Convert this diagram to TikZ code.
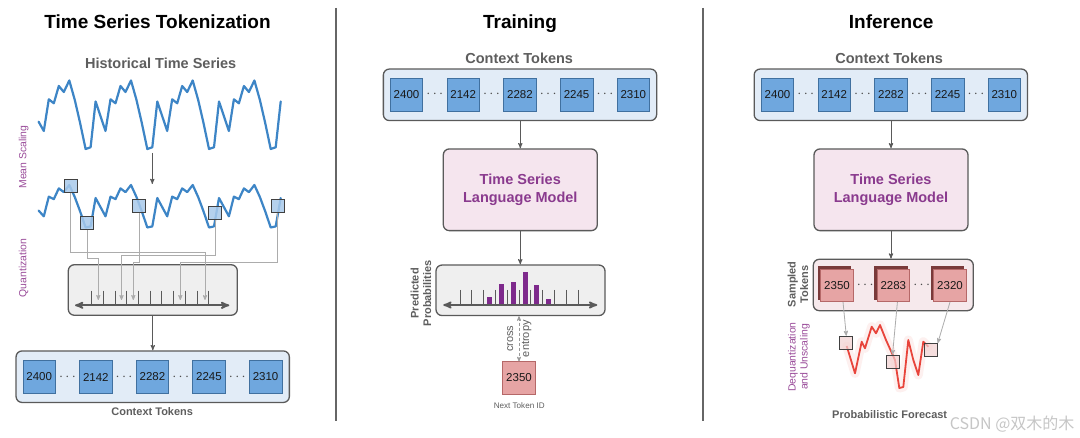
\documentclass[tikz,border=0pt]{standalone}
\usepackage{fontspec}
\setmainfont{Liberation Sans}
\newfontfamily\cjk{Noto Sans CJK SC}
\usetikzlibrary{positioning}
\usetikzlibrary{arrows}
\usetikzlibrary{shadows}

\definecolor{boxline}{HTML}{5A5A5A}
\definecolor{txtgray}{HTML}{5E5E5E}
\definecolor{lblpurple}{HTML}{9A4C9A}
\definecolor{lmpurple}{HTML}{8A3A8E}
\definecolor{ctxfill}{HTML}{E2ECF7}
\definecolor{tokfill}{HTML}{6FA7DE}
\definecolor{tokline}{HTML}{40709F}
\definecolor{lmfill}{HTML}{F5E5EE}
\definecolor{quantfill}{HTML}{EFEFEF}
\definecolor{redfill}{HTML}{E6A4A4}
\definecolor{redline}{HTML}{B56868}
\definecolor{reddark}{HTML}{7A3A3A}
\definecolor{sampfill}{HTML}{F6E9EC}
\definecolor{tsblue}{HTML}{3D85C6}
\definecolor{fcred}{HTML}{E8443B}
\definecolor{barpurple}{HTML}{7E2A8C}

\tikzset{node distance=56.7pt,
    paneltitle/.style={font=\fontsize{19}{22}\selectfont\bfseries, anchor=base},
    heading/.style={font=\fontsize{14.5}{17}\selectfont\bfseries, text=txtgray, anchor=base},
    lowlabel/.style={font=\fontsize{11}{13}\selectfont\bfseries, text=txtgray, anchor=base},
    sidelabel/.style={font=\fontsize{11}{12.5}\selectfont\bfseries, text=txtgray,
        rotate=90, align=center},
    steplabel/.style={font=\fontsize{10.4}{12}\selectfont, text=lblpurple,
        rotate=90, align=center},
    panel/.style={draw=boxline, line width=1.3pt, rounded corners=6pt, inner sep=0pt},
    ctxbox/.style={panel, fill=ctxfill, minimum width=273.3pt, minimum height=51.5pt},
    lmbox/.style={panel, fill=lmfill, minimum width=154pt, minimum height=81.7pt,
        font=\fontsize{14.5}{17.3}\selectfont\bfseries, text=lmpurple, align=center},
    axisbox/.style={panel, fill=quantfill, minimum width=169pt, minimum height=50.5pt},
    sampbox/.style={panel, fill=sampfill, minimum width=160pt, minimum height=51.4pt},
    tok/.style={draw=tokline, fill=tokfill, line width=0.6pt, minimum size=32.5pt,
        inner sep=0pt, font=\fontsize{11.5}{13}\selectfont, text=black!90},
    rtok/.style={draw=redline, fill=redfill, line width=0.6pt, minimum size=32.5pt,
        inner sep=0pt, font=\fontsize{11.5}{13}\selectfont, text=black!90},
    cube/.style={rtok, copy shadow={shadow xshift=-2.5pt, shadow yshift=2.5pt,
        fill=reddark, draw=reddark}},
    dotnode/.style={font=\fontsize{14}{14}\selectfont, text=black!70},
    qsquare/.style={draw=black!75, line width=0.9pt, minimum size=13pt, inner sep=0pt},
    flow/.style={draw=boxline, line width=0.9pt, ->, >=stealth'},
    link/.style={draw=gray!65, line width=0.8pt, ->, >=stealth'},
    series/.style={tsblue, line width=2.2pt, line join=round, line cap=round},
    divider/.style={draw=black!60, line width=1.1pt},
    axisline/.style={draw=boxline, line width=1.8pt, stealth'-stealth'},
    qtick/.style={draw=boxline, line width=0.9pt}}

% one historical series, four periods
\newcommand{\tsline}{%
  \draw[series] (38.6,121.7) \foreach \p in {69.3,131.0,192.7,254.4}{
    -- (\p-25.5,131) -- (\p-20.5,99.3) -- (\p-15.5,103.3) -- (\p-10.5,86)
    -- (\p-5.5,92) -- (\p,80.5) -- (\p+5.5,100) -- (\p+10.7,122.5)
    -- (\p+16.3,149) -- (\p+21.3,147.3) -- (\p+26.3,101.5)};}

\begin{document}
\begin{tikzpicture}[x=1pt, y=-1pt]
    \useasboundingbox[fill=white] (0,0) rectangle (1080,438);

    \draw[divider] (336,8) -- (336,421);
    \draw[divider] (703,8) -- (703,421);

    %% Time Series Tokenization
    \node[paneltitle] (titleA) at (157.5,28.3) {Time Series Tokenization};
    \node[heading] (hist) at (160.7,68.3) {Historical Time Series};
    \tsline
    \begin{scope}[shift={(0,185)}, yscale=0.62, shift={(0,-80.5)}]
        \tsline
    \end{scope}
    \coordinate (ts1) at (152.3,153);
    \coordinate (ts2) at (152.3,184);
    \draw[flow] (ts1) -- (ts2);

    \node[steplabel] (scaling) at (23.8,157) {Mean Scaling};
    \node[steplabel] (quantize) at (23.7,268) {Quantization};

    \node[qsquare, fill=tokfill!60, fill opacity=0.85] (q1) at (70.5,186) {};
    \node[qsquare, fill=tokfill!60, fill opacity=0.85] (q2) at (87,223) {};
    \node[qsquare, fill=tokfill!60, fill opacity=0.85] (q3) at (139,205.7) {};
    \node[qsquare, fill=tokfill!60, fill opacity=0.85] (q4) at (215,213.3) {};
    \node[qsquare, fill=tokfill!60, fill opacity=0.85] (q5) at (277.5,205.7) {};

    \node[axisbox] (quant) at (152.8,290) {};
    \draw[axisline] (75,305.3) -- (229.3,305.3);
    \foreach \i in {0,...,10}
        \draw[qtick] (91.7+11.7*\i,290.7) -- ++(0,14.6);

    \coordinate (a1) at (205,300);
    \coordinate (a2) at (98.3,300);
    \coordinate (a3) at (133.3,300);
    \coordinate (a4) at (121.5,300);
    \coordinate (a5) at (180.3,300);
    \draw[link] (q1.south) -- ++(0,59.2) -| (a1);
    \draw[link] (q2.south) -- ++(0,28.2) -| (a2);
    \draw[link] (q3.south) -- ++(0,49.5) -| (a3);
    \draw[link] (q4.south) -- ++(0,35.2) -| (a4);
    \draw[link] (q5.south) -- ++(0,49.5) -| (a5);

    \node[ctxbox] (ctxA) at (152.7,376.7) {};
    \foreach \v [count=\i] in {2400,2142,2282,2245,2310}
        \node[tok] (ta\i) at (39.2+56.6*\i-56.6,377) {\v};
    \foreach \i in {1,...,4}
        \node[dotnode] at (67.5+56.6*\i-56.6,377) {$\cdots$};
    \draw[flow] (quant.south) -- (quant.south |- ctxA.north);
    \node[lowlabel] (ctxnameA) at (152.2,416) {Context Tokens};

    %% Training
    \node[paneltitle] (titleB) at (520,28.3) {Training};
    \node[heading] (ctxnameB) at (519.2,63.3) {Context Tokens};
    \node[ctxbox] (ctxB) at (520,94.8) {};
    \foreach \v [count=\i] in {2400,2142,2282,2245,2310}
        \node[tok] (tb\i) at (406.5+56.7*\i-56.7,94.7) {\v};
    \foreach \i in {1,...,4}
        \node[dotnode] at (434.8+56.7*\i-56.7,94.7) {$\cdots$};

    \node[lmbox] (lmB) at (520.3,189.8) {Time Series\\Language Model};
    \draw[flow] (lmB.north |- ctxB.south) -- (lmB.north);

    \node[axisbox] (probB) at (520.5,290.3) {};
    \draw[flow] (lmB.south) -- (lmB.south |- probB.north);
    \draw[axisline] (443.3,305) -- (597.3,305);
    \foreach \i in {0,...,10}
        \draw[qtick] (460+11.8*\i,290) -- ++(0,15);
    \foreach \x/\t in {489/296.7, 501.8/284.3, 513.2/281.7, 525.2/271.7, 536.8/285, 548.5/299.3}
        \fill[barpurple] (\x-2.5,304) rectangle (\x+2.5,\t);
    \node[sidelabel] (predlabel) at (421,293.3) {Predicted\\Probabilities};

    \node[rtok] (nexttok) at (519,378) {2350};
    \draw[densely dashed, draw=gray!80, line width=0.7pt, stealth'-stealth']
        (nexttok.north |- probB.south) -- (nexttok.north);
    \node[font=\fontsize{11}{16}\selectfont, text=txtgray, rotate=90, align=center]
        (xent) at (519.3,338.7) {cross\\entropy};
    \node[font=\fontsize{8.1}{10}\selectfont, text=txtgray, anchor=base]
        (nextlabel) at (519.2,408.3) {Next Token ID};

    %% Inference
    \node[paneltitle] (titleC) at (891.2,28.3) {Inference};
    \node[heading] (ctxnameC) at (889.2,63.3) {Context Tokens};
    \node[ctxbox] (ctxC) at (890.8,94.8) {};
    \foreach \v [count=\i] in {2400,2142,2282,2245,2310}
        \node[tok] (tc\i) at (777.5+56.7*\i-56.7,94.7) {\v};
    \foreach \i in {1,...,4}
        \node[dotnode] at (805.8+56.7*\i-56.7,94.7) {$\cdots$};

    \node[lmbox] (lmC) at (891,189.8) {Time Series\\Language Model};
    \draw[flow] (lmC.north |- ctxC.south) -- (lmC.north);

    \node[sampbox] (samp) at (893.3,285) {};
    \draw[flow] (lmC.south) -- (lmC.south |- samp.north);
    \node[cube] (s1) at (837,285.5) {2350};
    \node[cube] (s2) at (893.3,285.5) {2283};
    \node[cube] (s3) at (950,285.5) {2320};
    \node[dotnode] at (865.2,285.5) {$\cdots$};
    \node[dotnode] at (921.7,285.5) {$\cdots$};
    \node[sidelabel] (samplabel) at (798,284.3) {Sampled\\Tokens};
    \node[steplabel] (dequant) at (799,357) {Dequantization\\and Unscaling};

    \draw[fcred!8, line width=9pt, line join=round, line cap=round]
        (846.7,346) -- (855,373.3) -- (861.7,341.7) -- (865,348.3) -- (871.7,326.7)
        -- (876,333.3) -- (880,325) -- (886,340) -- (895,360) -- (899.3,388)
        -- (903.3,387) -- (908.3,340) -- (913.3,360) -- (918.3,375) -- (923.3,341.7)
        -- (928.3,346.7);
    \draw[fcred, line width=1.8pt, line join=round]
        (846.7,346) -- (855,373.3) -- (861.7,341.7) -- (865,348.3) -- (871.7,326.7)
        -- (876,333.3) -- (880,325) -- (886,340) -- (895,360) -- (899.3,388)
        -- (903.3,387) -- (908.3,340) -- (913.3,360) -- (918.3,375) -- (923.3,341.7)
        -- (928.3,346.7);

    \node[qsquare, fill=redfill!50, fill opacity=0.7] (f1) at (846.3,342.7) {};
    \node[qsquare, fill=redfill!50, fill opacity=0.7] (f2) at (892.5,361.7) {};
    \node[qsquare, fill=redfill!50, fill opacity=0.7] (f3) at (930.8,350) {};
    \draw[link] (s1.290) -- (f1.north);
    \draw[link] (s2.284) -- (f2.north);
    \draw[link] (s3.south) -- (f3.north east);

    \node[lowlabel] (forecast) at (889.7,419) {Probabilistic Forecast};
    \node[font=\cjk\fontsize{16}{18}\selectfont, text=gray!45, anchor=base east]
        (mark) at (1078,430) {CSDN @双木的木};
\end{tikzpicture}
\end{document}
